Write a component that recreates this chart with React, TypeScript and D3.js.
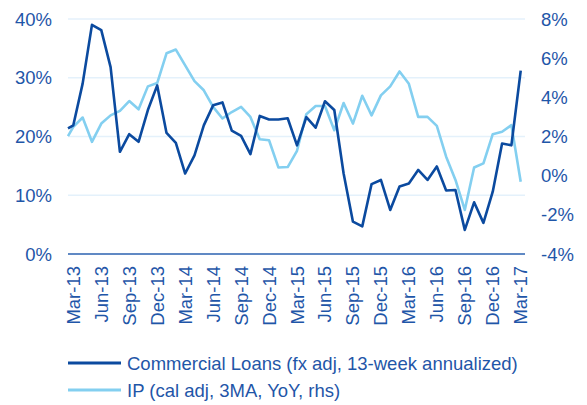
import React from "react";
import * as d3 from "d3";

// Observation months: first observation falls mid-February 2013, then monthly Mar-13 .. Mar-17
const firstObsOffset = -0.57;

const loans = [
  21.4, 21.9, 29.0, 39.0, 38.1, 31.8, 17.4, 20.4, 19.1, 24.5,
  28.7, 20.6, 18.9, 13.7, 16.8, 21.9, 25.3, 25.8, 21.0, 20.1,
  17.0, 23.5, 22.9, 22.9, 23.1, 18.5, 23.3, 21.5, 26.0, 24.5,
  13.7, 5.5, 4.7, 11.9, 12.6, 7.5, 11.5, 12.0, 14.3, 12.6,
  14.9, 10.8, 10.9, 4.1, 8.8, 5.3, 10.6, 18.8, 18.5, 31.2,
];

const ip = [
  2.02, 2.49, 2.97, 1.73, 2.66, 3.08, 3.31, 3.81, 3.39, 4.56,
  4.73, 6.25, 6.44, 5.63, 4.83, 4.36, 3.51, 2.92, 3.25, 3.51,
  3.0, 1.86, 1.81, 0.42, 0.44, 1.27, 3.14, 3.56, 3.56, 2.32,
  3.71, 2.66, 4.08, 3.08, 4.1, 4.56, 5.32, 4.69, 3.0, 3.0,
  2.54, 0.97, -0.22, -1.75, 0.42, 0.63, 2.12, 2.24, 2.58, -0.31,
];

const tickLabels = [
  "Mar-13", "Jun-13", "Sep-13", "Dec-13", "Mar-14", "Jun-14", "Sep-14",
  "Dec-14", "Mar-15", "Jun-15", "Sep-15", "Dec-15", "Mar-16", "Jun-16",
  "Sep-16", "Dec-16", "Mar-17",
];

const leftTicks = [0, 10, 20, 30, 40];
const rightTicks = [-4, -2, 0, 2, 4, 6, 8];

const seriesNames = [
  "Commercial Loans (fx adj, 13-week annualized)",
  "IP (cal adj, 3MA, YoY, rhs)",
];

const W = 587;
const H = 405;
const TEXT = "#1f56a8";
const DARK = "#0b4a9f";
const LIGHT = "#83cff0";
const GRID = "#e4f1fb";
const AXIS = "#2b62b0";
const FONT = "Liberation Sans, Arial, sans-serif";
const FS = 18.5;

export default function App() {
  const plotL = 68;
  const plotR = 525;
  const plotT = 19;
  const plotB = 254;

  const obsMonths = loans.map((_, i) => (i === 0 ? firstObsOffset : i - 1));

  const x = d3.scaleLinear().domain([firstObsOffset, 48.46]).range([plotL, plotR]);
  const yL = d3.scaleLinear().domain([0, 40]).range([plotB, plotT]);
  const yR = d3.scaleLinear().domain([-4, 8]).range([plotB, plotT]);

  const lineL = d3
    .line<number>()
    .x((_, i) => x(obsMonths[i]))
    .y((d) => yL(d));
  const lineR = d3
    .line<number>()
    .x((_, i) => x(obsMonths[i]))
    .y((d) => yR(d));

  return (
    <svg
      width={W}
      height={H}
      style={{ position: "absolute", left: 0, top: 0, background: "#fff" }}
      fontFamily={FONT}
    >
      {leftTicks.slice(1).map((t) => (
        <line
          key={"g" + t}
          x1={plotL}
          x2={plotR}
          y1={yL(t)}
          y2={yL(t)}
          stroke={GRID}
          strokeWidth={1.5}
        />
      ))}
      {leftTicks.map((t) => (
        <text
          key={"l" + t}
          x={52}
          y={yL(t)}
          textAnchor="end"
          dominantBaseline="central"
          fontSize={FS}
          fill={TEXT}
        >
          {t + "%"}
        </text>
      ))}
      {rightTicks.map((t) => (
        <text
          key={"r" + t}
          x={541}
          y={yR(t)}
          textAnchor="start"
          dominantBaseline="central"
          fontSize={FS}
          fill={TEXT}
        >
          {t + "%"}
        </text>
      ))}
      <line x1={plotL} x2={plotR} y1={plotB} y2={plotB} stroke={AXIS} strokeWidth={1.5} />
      {tickLabels.map((lab, i) => (
        <text
          key={lab}
          transform={`translate(${x(i * 3) + 6.5},${plotB + 12}) rotate(-90)`}
          textAnchor="end"
          fontSize={FS}
          fill={TEXT}
        >
          {lab}
        </text>
      ))}
      <path d={lineR(ip) || ""} fill="none" stroke={LIGHT} strokeWidth={2.6} strokeLinejoin="round" />
      <path d={lineL(loans) || ""} fill="none" stroke={DARK} strokeWidth={2.6} strokeLinejoin="round" />

      <line x1={68} x2={121} y1={363} y2={363} stroke={DARK} strokeWidth={3} />
      <text x={127} y={363} dominantBaseline="central" fontSize={FS} fill={TEXT}>
        {seriesNames[0]}
      </text>
      <line x1={68} x2={121} y1={390} y2={390} stroke={LIGHT} strokeWidth={3} />
      <text x={127} y={390} dominantBaseline="central" fontSize={FS} fill={TEXT}>
        {seriesNames[1]}
      </text>
    </svg>
  );
}
